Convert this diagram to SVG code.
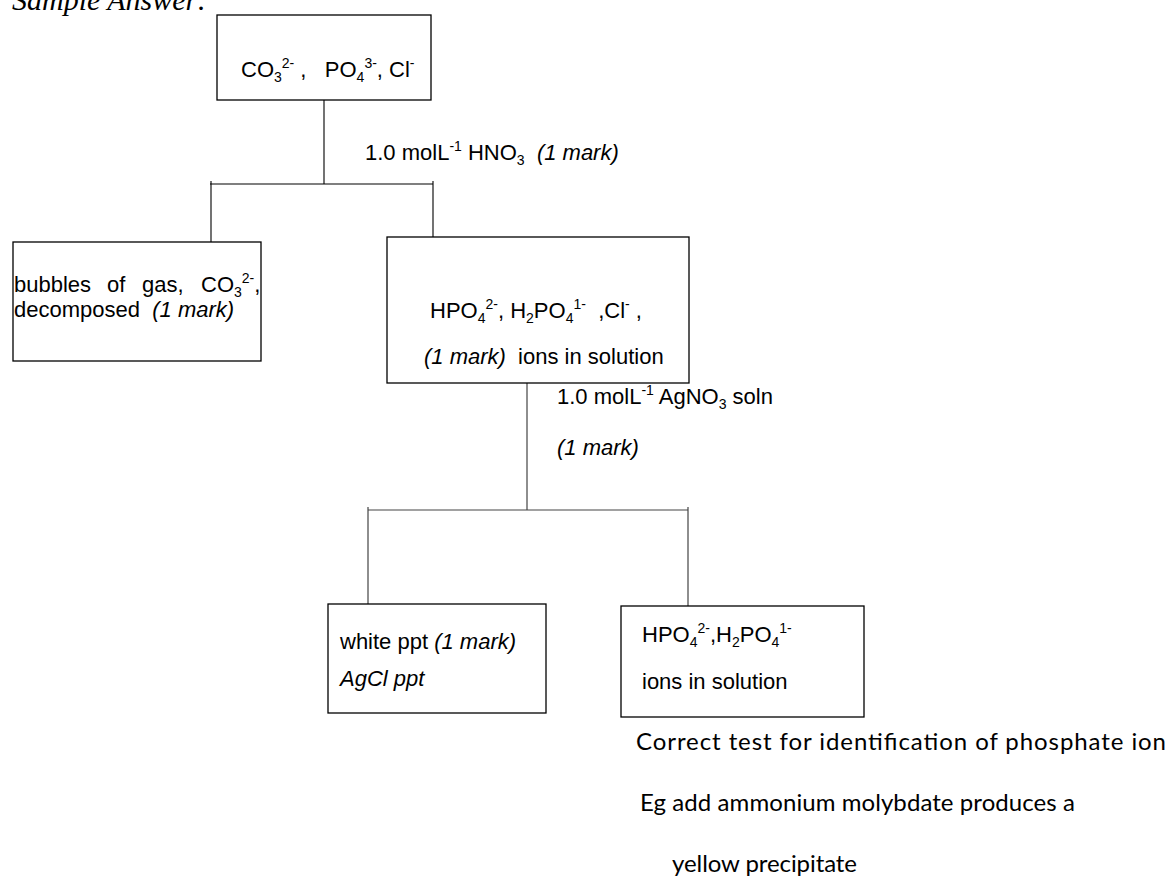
<svg xmlns="http://www.w3.org/2000/svg" width="1175" height="887" viewBox="0 0 1175 887">
<style>
.box{fill:#fff;stroke:#000;stroke-width:1.3}
.ln{fill:none;stroke:#000;stroke-width:1.1}
.ln2{fill:none;stroke:#444;stroke-width:1.2}
.t{font-family:"Liberation Sans",Arial,sans-serif;font-size:22px;fill:#000}
.i{font-style:italic}
.s{font-size:14px}
.c{font-family:Lato,"Open Sans",sans-serif;font-size:24px;fill:#000}
.h{font-family:"Liberation Serif","Times New Roman",serif;font-style:italic;font-size:30px;fill:#000}
</style>
<rect width="1175" height="887" fill="#fff"/>
<text class="h" x="12" y="10">Sample Answer:</text>
<g id="connectors">
<path class="ln" d="M324,100 V184 M210,184 H433 M211,181 V242 M433,181 V237"/>
<path class="ln2" d="M527,383 V510 M368,510 H688 M368,507 V604 M688,507 V606"/>
</g>
<g id="label1">
<text class="t" x="365" y="160" xml:space="preserve">1.0 molL<tspan class="s" dy="-9">-1</tspan><tspan dy="9"> HNO</tspan><tspan class="s" dy="5">3</tspan><tspan dy="-5">  </tspan><tspan class="i">(1 mark)</tspan></text>
</g>
<g id="label2">
<text class="t" x="557" y="404" xml:space="preserve">1.0 molL<tspan class="s" dy="-9">-1</tspan><tspan dy="9"> AgNO</tspan><tspan class="s" dy="5">3</tspan><tspan dy="-5"> soln</tspan></text>
<text class="t i" x="557" y="455">(1 mark)</text>
</g>
<g id="top">
<rect class="box" x="217" y="15" width="214" height="85"/>
<text class="t" x="241" y="77" xml:space="preserve">CO<tspan class="s" dy="5">3</tspan><tspan class="s" dy="-14">2-</tspan><tspan dy="9"> ,   PO</tspan><tspan class="s" dy="5">4</tspan><tspan class="s" dy="-14">3-</tspan><tspan dy="9">, Cl</tspan><tspan class="s" dy="-9">-</tspan></text>
</g>
<g id="left">
<rect class="box" x="13" y="242" width="248" height="119"/>
<text class="t" y="292"><tspan x="14">bubbles</tspan><tspan x="107">of</tspan><tspan x="142">gas,</tspan><tspan x="201">CO</tspan><tspan class="s" dy="5">3</tspan><tspan class="s" dy="-14">2-</tspan><tspan dy="9">,</tspan></text>
<text class="t" x="14" y="317" xml:space="preserve">decomposed  <tspan class="i">(1 mark)</tspan></text>
</g>
<g id="middle">
<rect class="box" x="387" y="237" width="302" height="146"/>
<text class="t" x="430" y="318" xml:space="preserve">HPO<tspan class="s" dy="5">4</tspan><tspan class="s" dy="-14">2-</tspan><tspan dy="9">, H</tspan><tspan class="s" dy="5">2</tspan><tspan dy="-5">PO</tspan><tspan class="s" dy="5">4</tspan><tspan class="s" dy="-14">1-</tspan><tspan dy="9">  ,Cl</tspan><tspan class="s" dy="-9">-</tspan><tspan dy="9"> ,</tspan></text>
<text class="t" x="424" y="364" xml:space="preserve"><tspan class="i">(1 mark)</tspan>  ions in solution</text>
</g>
<g id="whiteppt">
<rect class="box" x="328" y="604" width="218" height="109"/>
<text class="t" x="340" y="649" xml:space="preserve">white ppt <tspan class="i">(1 mark)</tspan></text>
<text class="t i" x="340" y="686">AgCl ppt</text>
</g>
<g id="phosphate">
<rect class="box" x="621" y="606" width="243" height="111"/>
<text class="t" x="642" y="642">HPO<tspan class="s" dy="5">4</tspan><tspan class="s" dy="-14">2-</tspan><tspan dy="9">,H</tspan><tspan class="s" dy="5">2</tspan><tspan dy="-5">PO</tspan><tspan class="s" dy="5">4</tspan><tspan class="s" dy="-14">1-</tspan></text>
<text class="t" x="642" y="689">ions in solution</text>
</g>
<g id="note">
<text class="c" x="636" y="750" textLength="530" lengthAdjust="spacing">Correct test for identification of phosphate ion</text>
<text class="c" x="640" y="811" textLength="435" lengthAdjust="spacing">Eg add ammonium molybdate produces a</text>
<text class="c" x="672" y="872" textLength="185" lengthAdjust="spacing">yellow precipitate</text>
</g>
</svg>
